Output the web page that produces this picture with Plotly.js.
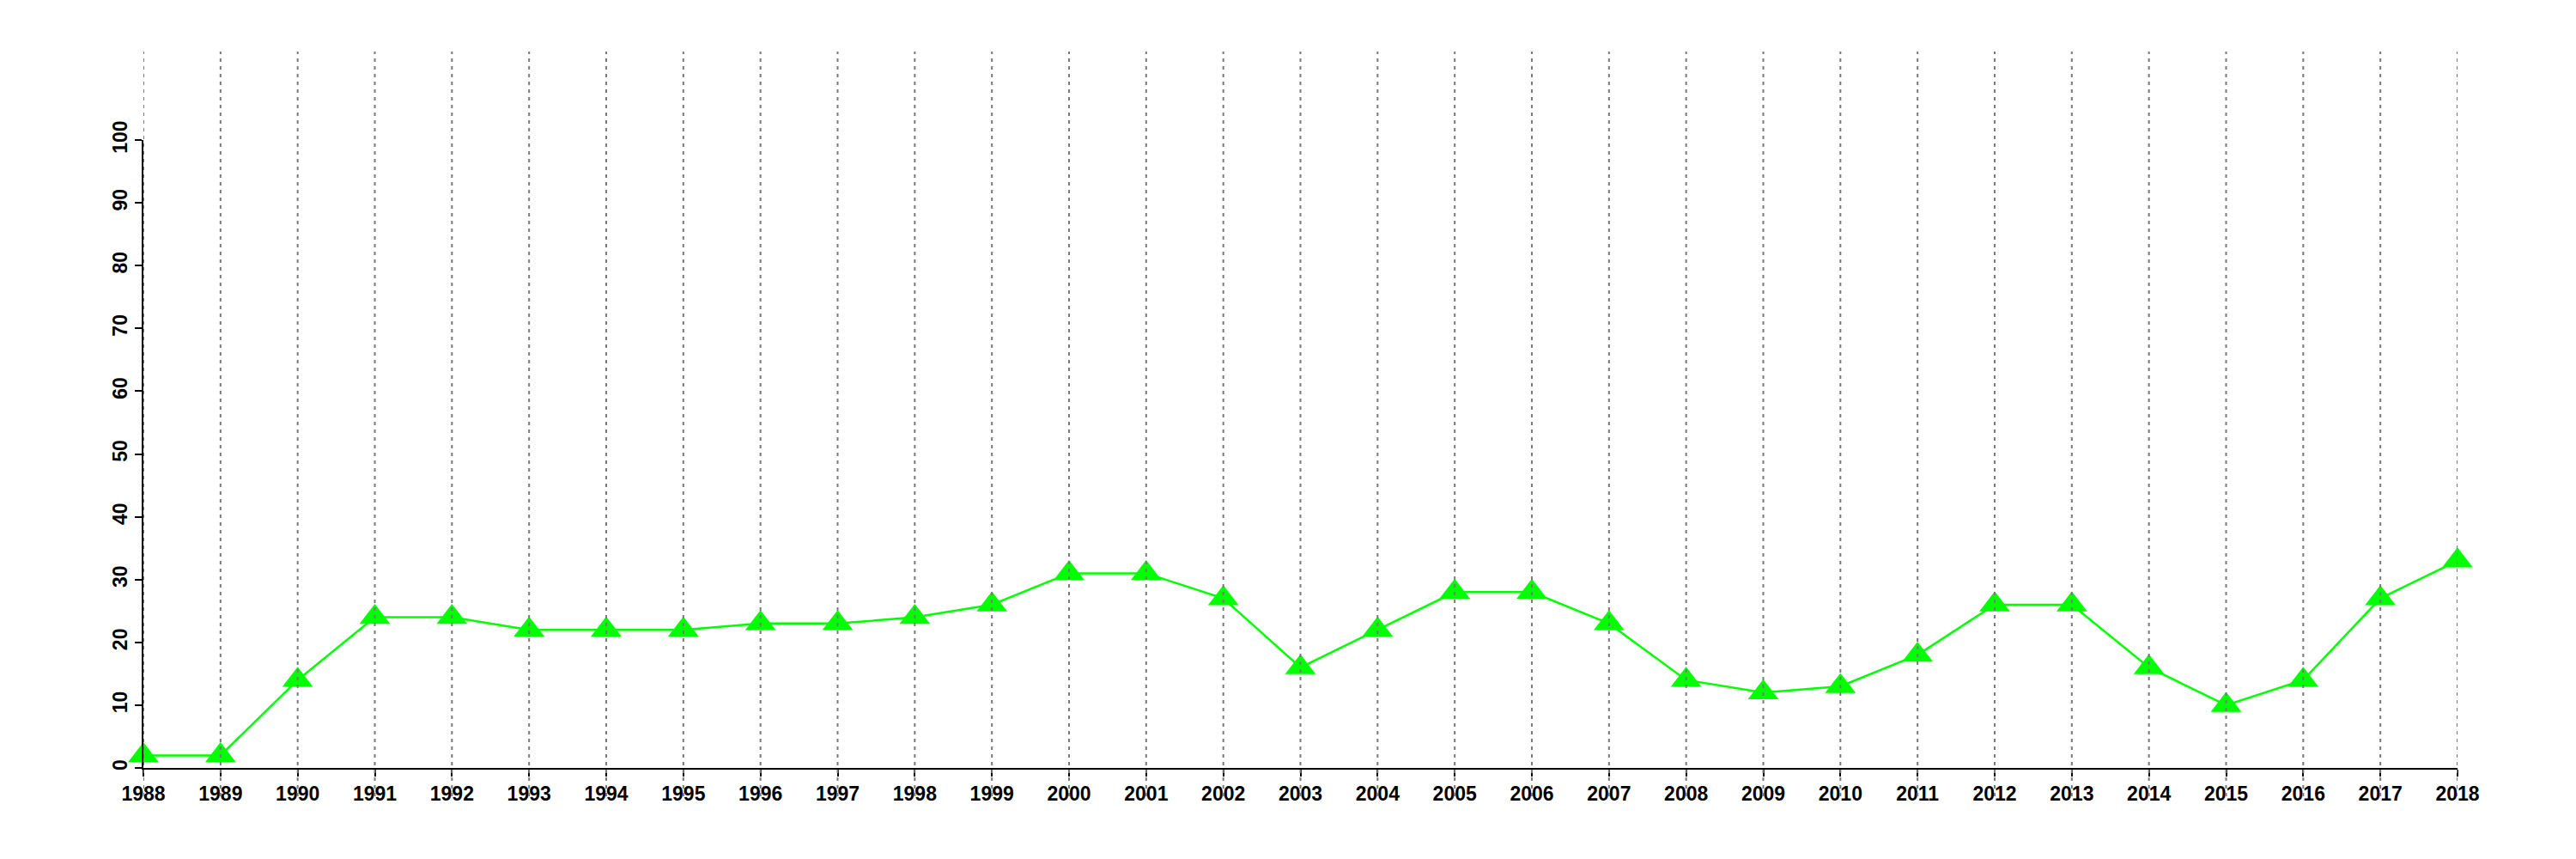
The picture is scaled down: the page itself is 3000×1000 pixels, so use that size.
<!DOCTYPE html>
<html>
<head>
<meta charset="utf-8">
<script src="https://cdn.plot.ly/plotly-3.0.1.min.js"></script>
<style>
html,body{margin:0;padding:0;background:#fff;}
#chart{width:3000px;height:1000px;}
</style>
</head>
<body>
<div id="chart"></div>
<script>
const years = [1988,1989,1990,1991,1992,1993,1994,1995,1996,1997,1998,1999,2000,2001,2002,2003,2004,2005,2006,2007,2008,2009,2010,2011,2012,2013,2014,2015,2016,2017,2018];
const values = [2,2,14,24,24,22,22,22,23,23,24,26,31,31,27,16,22,28,28,23,14,12,13,18,26,26,16,10,14,27,33];
const yTicks = [0,10,20,30,40,50,60,70,80,90,100];

const tickFont = {family: 'Liberation Sans, Arial, sans-serif', size: 23, color: '#000', weight: 'bold'};

const shapes = years.map(function (yr) {
  return {
    type: 'line', xref: 'x', yref: 'paper',
    x0: yr, x1: yr, y0: -0.045, y1: 1.141,
    line: {color: '#7a7a7a', width: 2, dash: '4px,5px'},
    layer: 'above'
  };
});

const trace = {
  x: years, y: values,
  type: 'scatter', mode: 'lines+markers',
  line: {color: '#00ff00', width: 2.5},
  marker: {symbol: 'triangle-up', size: 31, color: '#00ff00'},
  cliponaxis: false,
  hoverinfo: 'x+y'
};

const layout = {
  width: 3000, height: 1000,
  margin: {l: 167, r: 138, t: 163, b: 106, pad: 0},
  paper_bgcolor: '#fff', plot_bgcolor: '#fff',
  showlegend: false,
  xaxis: {
    range: [years[0], years[years.length - 1]],
    tickvals: years, ticktext: years.map(String),
    showgrid: false, zeroline: false,
    showline: true, linecolor: '#000', linewidth: 2,
    ticks: 'outside', ticklen: 8, tickwidth: 2, tickcolor: '#000',
    tickfont: tickFont, tickangle: 0
  },
  yaxis: {
    range: [0, 100],
    tickvals: yTicks, ticktext: yTicks.map(String),
    showgrid: false, zeroline: false,
    showline: true, linecolor: '#000', linewidth: 2,
    ticks: 'outside', ticklen: 8, tickwidth: 2, tickcolor: '#000',
    tickfont: tickFont, tickangle: -90
  },
  shapes: shapes
};

Plotly.newPlot('chart', [trace], layout, {displayModeBar: false, staticPlot: true});
</script>
</body>
</html>
